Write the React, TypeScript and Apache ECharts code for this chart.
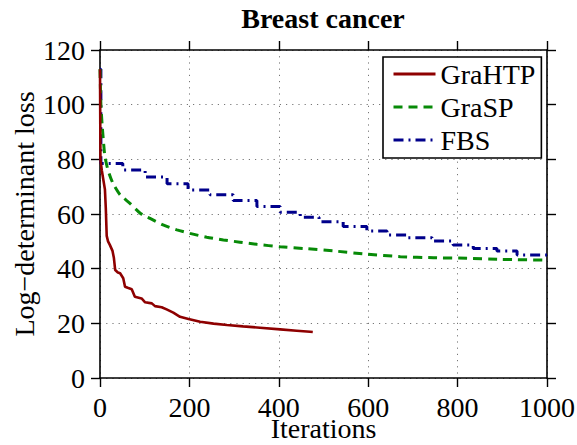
import React, { useEffect, useRef } from "react";
import * as echarts from "echarts";

const title = "Breast cancer";
const xName = "Iterations";
const yName = "Log\u2212determinant loss";
const seriesNames = ["GraHTP", "GraSP", "FBS"];
const xTicks = { min: 0, max: 1000, interval: 200 };
const yTicks = { min: 0, max: 120, interval: 20 };

// GraHTP (solid dark red)
const grahtpX = [0, 1, 4, 8, 11, 13, 15, 18, 22, 28, 31, 34, 40, 45, 52, 56, 62, 71, 78, 93, 101, 116, 123, 138, 149, 164, 179, 198, 224, 254, 284, 320, 358, 403, 440, 470, 476];
const grahtpY = [113, 80, 76, 72, 69, 62, 52, 50, 48.7, 46.5, 44, 39.5, 38.6, 38.3, 36.5, 33.4, 33, 32.5, 29.7, 29.1, 27.7, 27.3, 26.3, 25.9, 25.1, 23.9, 22.4, 21.6, 20.6, 19.9, 19.4, 18.9, 18.4, 17.8, 17.3, 16.9, 16.8];

// GraSP (dashed green)
const graspX = [0, 2, 5, 8, 11, 18, 29, 45, 67, 90, 112, 141, 172, 201, 239, 276, 313, 351, 403, 455, 522, 597, 672, 746, 821, 896, 1000];
const graspY = [113, 100, 92, 86, 81, 76, 71.2, 67, 63.9, 60.3, 58.4, 56, 54.2, 52.9, 51.5, 50.5, 49.7, 48.9, 48, 47.4, 46.5, 45.3, 44.4, 44, 43.8, 43.4, 43.1];

// FBS (dash-dot navy), step starts
const fbsX = [0, 2, 51, 101, 150, 197, 246, 298, 351, 403, 448, 490, 544, 597, 642, 687, 743, 790, 835, 888, 933, 1000];
const fbsY = [113, 78.5, 76.1, 73.5, 71.1, 68.8, 67, 64.9, 62.7, 60.6, 58.8, 57.2, 55.4, 53.8, 52.3, 51.3, 50.1, 48.7, 47.4, 46.5, 45, 45];

const FONT = "'Liberation Serif', 'Times New Roman', 'DejaVu Serif', serif";

function zip(xs: number[], ys: number[]) {
  return xs.map((x, i) => [x, ys[i]]);
}

export default function App() {
  const ref = useRef<HTMLDivElement>(null);
  useEffect(() => {
    if (!ref.current) return;
    const chart = echarts.init(ref.current, undefined, { renderer: "svg" });
    const axisLine = { show: true, onZero: false, lineStyle: { color: "#000", width: 1.6 } };
    const axisTick = { show: true, inside: false, length: 9, lineStyle: { color: "#000", width: 1.4 } };
    const splitLine = { show: true, lineStyle: { color: "#777", width: 1, type: [1.2, 5] as any } };
    chart.setOption({
      animation: false,
      backgroundColor: "#fff",
      title: {
        text: title,
        left: 323,
        textAlign: "center",
        top: 0,
        padding: [4, 0, 0, 0],
        textStyle: { fontFamily: FONT, fontSize: 28, fontWeight: "bold", color: "#000" },
      },
      grid: { left: 100, right: 30, top: 50, bottom: 67, outerBoundsMode: "none", containLabel: false },
      legend: {
        orient: "vertical",
        left: 383,
        top: 57,
        padding: [3, 6, 4, 9],
        itemGap: 5,
        itemWidth: 42,
        itemHeight: 14,
        backgroundColor: "#fff",
        borderColor: "#000",
        borderWidth: 1.6,
        borderRadius: 0,
        itemStyle: { opacity: 0 },
        lineStyle: { width: 3 },
        textStyle: { fontFamily: FONT, fontSize: 28, color: "#000", padding: [0, 0, 0, 0] },
        data: seriesNames,
      },
      xAxis: [
        {
          type: "value",
          position: "bottom",
          min: xTicks.min,
          max: xTicks.max,
          interval: xTicks.interval,
          name: xName,
          nameLocation: "middle",
          nameGap: 40,
          nameMoveOverlap: false,
          nameTextStyle: { fontFamily: FONT, fontSize: 28, lineHeight: 20, color: "#000" },
          axisLine,
          axisTick,
          splitLine,
          axisLabel: {
            margin: 19,
            fontFamily: FONT,
            fontSize: 28,
            lineHeight: 20,
            color: "#000",
            formatter: (v: number) => String(v),
          },
        },
        {
          type: "value",
          position: "top",
          min: xTicks.min,
          max: xTicks.max,
          interval: xTicks.interval,
          axisLine,
          axisTick,
          splitLine: { show: false },
          axisLabel: { show: false },
        },
      ],
      yAxis: [
        {
          type: "value",
          position: "left",
          min: yTicks.min,
          max: yTicks.max,
          interval: yTicks.interval,
          name: yName,
          nameLocation: "middle",
          nameRotate: 90,
          nameGap: 62,
          nameMoveOverlap: false,
          nameTextStyle: { fontFamily: FONT, fontSize: 28, color: "#000" },
          axisLine,
          axisTick,
          splitLine,
          axisLabel: { margin: 15, fontFamily: FONT, fontSize: 28, color: "#000" },
        },
        {
          type: "value",
          position: "right",
          min: yTicks.min,
          max: yTicks.max,
          interval: yTicks.interval,
          axisLine,
          axisTick,
          splitLine: { show: false },
          axisLabel: { show: false },
        },
      ],
      series: [
        {
          name: seriesNames[0],
          type: "line",
          data: zip(grahtpX, grahtpY),
          symbol: "none",
          showSymbol: false,
          color: "#8e0000",
          lineStyle: { color: "#8e0000", width: 2.6, type: "solid" },
          z: 4,
        },
        {
          name: seriesNames[1],
          type: "line",
          data: zip(graspX, graspY),
          symbol: "none",
          showSymbol: false,
          smooth: 0.2,
          color: "#078a07",
          lineStyle: { color: "#078a07", width: 3, type: [9, 6] },
          z: 3,
        },
        {
          name: seriesNames[2],
          type: "line",
          data: zip(fbsX, fbsY),
          step: "end",
          symbol: "none",
          showSymbol: false,
          color: "#00008b",
          lineStyle: { color: "#00008b", width: 3, type: [10, 5, 2, 5] },
          z: 2,
        },
      ],
    });
    return () => chart.dispose();
  }, []);
  return (
    <div
      ref={ref}
      style={{ position: "fixed", left: 0, top: 0, width: 577, height: 445, background: "#fff" }}
    />
  );
}
